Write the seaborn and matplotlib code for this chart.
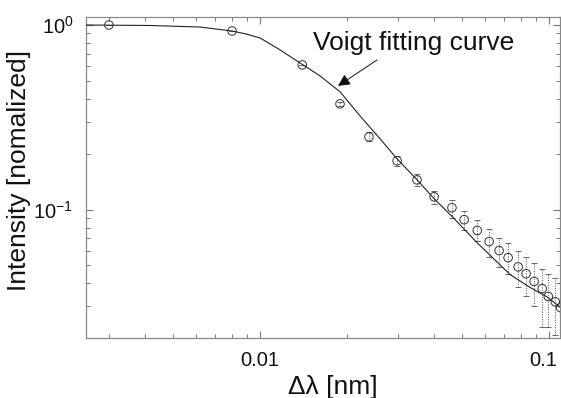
import matplotlib
matplotlib.use("Agg")
import matplotlib.pyplot as plt
import matplotlib.ticker as mticker
import matplotlib.transforms as mtransforms
import numpy as np
import pandas as pd
import seaborn as sns

# Voigt fitting curve
curve_x = [0.0025, 0.00416, 0.0062, 0.008, 0.00895, 0.010, 0.01173, 0.01375, 0.01613,
           0.01893, 0.02217, 0.02601, 0.02979, 0.03494, 0.040, 0.04617, 0.05636,
           0.0733, 0.08597, 0.09843, 0.1092]
curve_y = [1.0, 0.994, 0.975, 0.928, 0.894, 0.851, 0.733, 0.623, 0.530,
           0.434, 0.322, 0.242, 0.1884, 0.145, 0.1147, 0.0918, 0.0662,
           0.0445, 0.0379, 0.0337, 0.0296]

# measured points with error bar bounds
pt_x = [0.003, 0.008, 0.014, 0.0189, 0.0238, 0.0298, 0.0349, 0.040, 0.0461, 0.0508,
        0.0564, 0.0620, 0.0671, 0.0721, 0.0781, 0.0832, 0.0887, 0.0946, 0.0993, 0.105, 0.1095]
pt_y = [1.0, 0.928, 0.608, 0.374, 0.248, 0.184, 0.145, 0.1175, 0.1025, 0.0883,
        0.0772, 0.0672, 0.0601, 0.055, 0.049, 0.045, 0.0409, 0.0374, 0.0339, 0.0317, 0.0295]
err_hi = [1.0, 0.928, 0.608, 0.385, 0.262, 0.196, 0.156, 0.127, 0.113, 0.099,
          0.088, 0.079, 0.0705, 0.066, 0.060, 0.0557, 0.0516, 0.048, 0.045, 0.0427, 0.040]
err_lo = [1.0, 0.928, 0.608, 0.364, 0.236, 0.173, 0.134, 0.108, 0.0906, 0.078,
          0.068, 0.0557, 0.049, 0.0446, 0.0383, 0.0339, 0.030, 0.0233, 0.0233, 0.021, 0.019]

curve = pd.DataFrame({"x": curve_x, "y": curve_y})
pts = pd.DataFrame({"x": pt_x, "y": pt_y, "lo": err_lo, "hi": err_hi})

sns.set_theme(style="ticks")
plt.rcParams["font.family"] = ["Liberation Sans", "DejaVu Sans"]
plt.rcParams["mathtext.fontset"] = "custom"
plt.rcParams["mathtext.rm"] = "Liberation Sans"

fig = plt.figure(figsize=(5.61, 3.98), dpi=100)
ax = fig.add_axes([86 / 561, 60 / 398, 474 / 561, 321 / 398])

yerr = np.array([pts["y"] - pts["lo"], pts["hi"] - pts["y"]])
eb = ax.errorbar(pts["x"], pts["y"], yerr=yerr, fmt="none", ecolor="#666666",
                 elinewidth=0.8, capsize=2.2, capthick=0.7, zorder=2)
eb[2][0].set_linestyle((0, (1, 1.2)))

sns.lineplot(data=curve, x="x", y="y", ax=ax, color="#222222", linewidth=0.8,
             estimator=None, sort=True, zorder=3)
sns.scatterplot(data=pts, x="x", y="y", ax=ax, marker="o", s=38,
                facecolor="none", edgecolor="#333333", linewidth=0.7, zorder=4)

ax.set_xscale("log")
ax.set_yscale("log")
ax.set_xlim(0.0025, 0.109)
ax.set_ylim(0.0202, 1.105)

ax.xaxis.set_major_locator(mticker.FixedLocator([0.01, 0.1]))
ax.xaxis.set_major_formatter(mticker.FixedFormatter(["0.01", "0.1"]))
ax.xaxis.set_minor_locator(mticker.LogLocator(base=10, subs=np.arange(2, 10), numticks=20))
ax.xaxis.set_minor_formatter(mticker.NullFormatter())
ax.yaxis.set_major_locator(mticker.LogLocator(base=10, numticks=10))
ax.yaxis.set_minor_locator(mticker.LogLocator(base=10, subs=np.arange(2, 10), numticks=20))
ax.yaxis.set_minor_formatter(mticker.NullFormatter())

ax.tick_params(which="both", direction="in", top=True, right=True, color="#777777",
               labelsize=14.5, labelcolor="#111111")
ax.tick_params(which="major", length=5, width=0.8, pad=9)
ax.tick_params(which="minor", length=3, width=0.7)
for sp in ax.spines.values():
    sp.set_color("#888888")
    sp.set_linewidth(0.9)

# nudge the "0.1" label left so it stays inside the figure
fig.canvas.draw()
shift = mtransforms.ScaledTranslation(-4 / 72, 0, fig.dpi_scale_trans)
lbl = ax.get_xticklabels()[-1]
lbl.set_transform(lbl.get_transform() + shift)

ax.set_xlabel("Δλ [nm]", fontsize=19, color="#111111", labelpad=4, x=0.521)
ax.set_ylabel("Intensity [nomalized]", fontsize=19, color="#111111", labelpad=2, y=0.523)

ax.text(0.0341, 0.733, "Voigt fitting curve", fontsize=19, color="#111111",
        ha="center", va="baseline")
ax.annotate("", xy=(0.0186, 0.468), xytext=(0.0254, 0.647),
            arrowprops=dict(arrowstyle="-|>", color="#111111", lw=0.7,
                            mutation_scale=18, shrinkA=0, shrinkB=0))

fig.savefig("out.png", dpi=100)
